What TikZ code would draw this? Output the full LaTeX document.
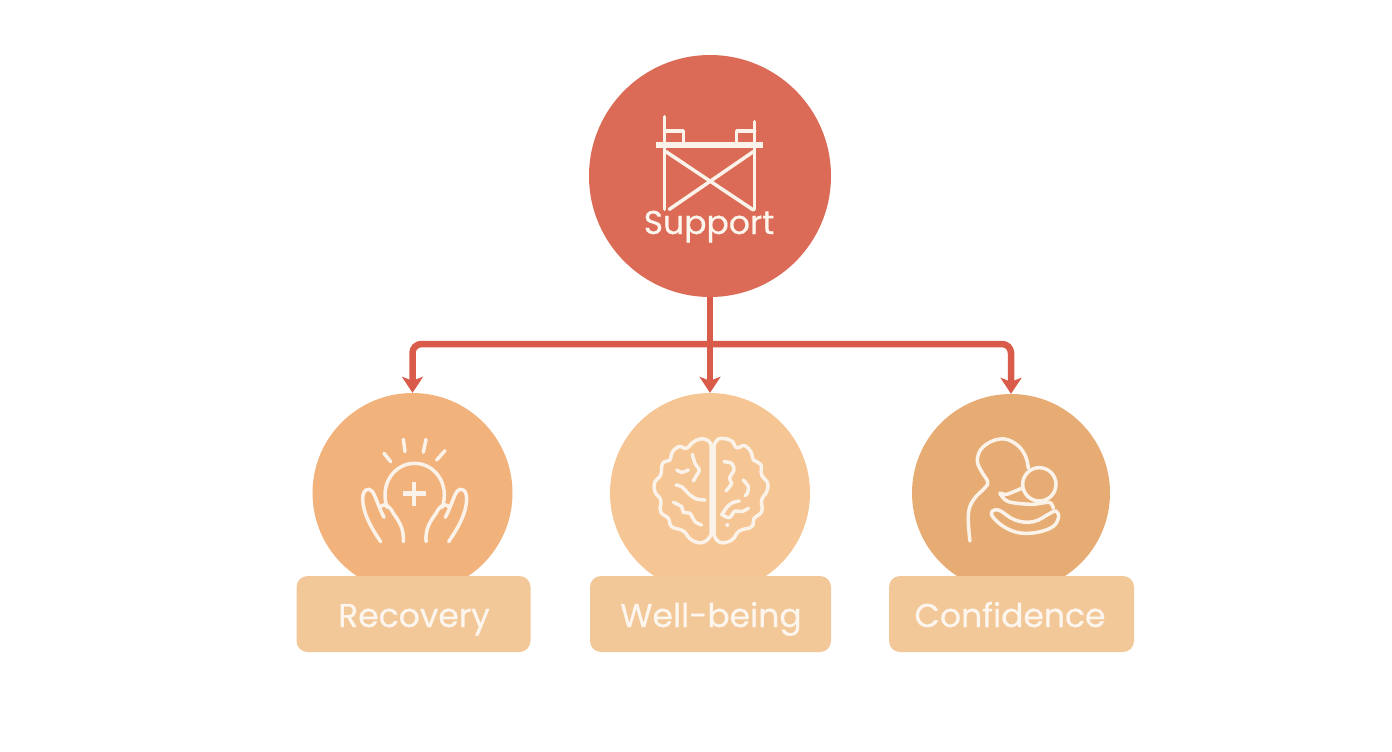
\documentclass[tikz,border=0pt]{standalone}
\usepackage{fontspec}
\setmainfont[FakeBold=0.5]{Poppins}
\usetikzlibrary{arrows.meta}
\definecolor{supportred}{HTML}{DB6B56}
\definecolor{linkred}{HTML}{D95C4B}
\definecolor{recoveryfill}{HTML}{F2B27C}
\definecolor{wellbeingfill}{HTML}{F5C594}
\definecolor{confidencefill}{HTML}{E6AC74}
\definecolor{labelfill}{HTML}{F3C899}
\definecolor{iconline}{HTML}{FBF3EA}
\definecolor{tagwhite}{HTML}{FDF6EE}
\tikzset{
    disc/.style={circle,draw=none,inner sep=0pt,minimum size=#1},
    tag/.style={rectangle,rounded corners=11pt,fill=labelfill,draw=none,minimum height=76pt},
    tagtext/.style={anchor=base,text=tagwhite,font=\fontsize{33}{36}\selectfont},
    linkarrow/.style={draw=linkred,line width=6.5pt,-{Stealth[length=16pt,width=21pt,inset=4pt]}},
    icon/.style={draw=iconline,line width=3.5pt,line cap=round,line join=round},
}
\begin{document}
\begin{tikzpicture}[x=1pt,y=-1pt]
        \useasboundingbox (0,0) rectangle (1392,752);
        \node[disc=242pt,fill=supportred] (support) at (710,176) {};
        \node[disc=200pt,fill=recoveryfill] (recovery) at (412.5,493) {};
        \node[disc=200pt,fill=wellbeingfill] (wellbeing) at (710,493) {};
        \node[disc=198pt,fill=confidencefill] (confidence) at (1011,493) {};
        \node[tag,minimum width=234pt] (recoverytag) at (413.5,614) {};
        \node[tag,minimum width=241pt] (wellbeingtag) at (710.5,614) {};
        \node[tag,minimum width=245pt] (confidencetag) at (1011.5,614) {};
        \node[tagtext] (recoverylabel) at (414,627) {Recovery};
        \node[tagtext] (wellbeinglabel) at (711,627) {Well-being};
        \node[tagtext] (confidencelabel) at (1010,627) {Confidence};
        \coordinate (branch) at (710,344);
        \draw[linkarrow] (support.south) -- (wellbeing.north);
        \draw[linkarrow,rounded corners=9pt] (branch) -| (recovery.north);
        \draw[linkarrow,rounded corners=9pt] (branch) -| (confidence.north);
        \begin{scope}[shift={(590,50)},scale=1/3]
            \draw[icon] (224,200) -- (224,478) (494,215) -- (494,478);
            \draw[icon,line width=6pt,line cap=butt] (198,286) -- (518,286);
            \draw[icon] (224,243) -- (280,243) -- (280,282) (494,243) -- (440,243) -- (440,282);
            \draw[icon] (228,305) -- (490,480) (490,305) -- (238,478);
        \end{scope}
        \node[tagtext] (supportlabel) at (709,234) {Support};
        \begin{scope}[shift={(340,420)},scale=1/3]
            \foreach \a/\b/\c/\d in {132/100/152/125,190/58/195/95,258/58/250/97,315/92/290/120}
                {\draw[icon] (\a,\b) -- (\c,\d);}
            \draw[icon] (141,262) .. controls (118,190) and (165,130) .. (224,130)
                .. controls (283,130) and (330,190) .. (307,262);
            \draw[icon,line width=4.5pt,line cap=butt] (188,220) -- (258,220) (222,185) -- (222,258);
            \foreach \sx/\sc in {0/1,448/-1} {
                \begin{scope}[shift={(\sx,0)},xscale=\sc]
                    \draw[icon] (122,365) .. controls (95,325) and (68,280) .. (68,235)
                        .. controls (68,205) and (92,198) .. (103,225)
                        .. controls (112,245) and (120,270) .. (132,292);
                    \draw[icon] (120,262) .. controls (135,245) and (150,260) .. (160,280)
                        .. controls (178,305) and (192,325) .. (190,365);
                \end{scope}
            }
        \end{scope}
        \begin{scope}[shift={(640,425)},scale=1/3]
            \draw[icon] plot[smooth,tension=0.8] coordinates {(213,60) (205,47) (180,42) (155,55) (140,70) (115,65)
                (95,85) (90,105) (68,115) (62,150) (45,170) (45,200) (62,225) (62,260) (85,280) (95,305)
                (130,318) (155,345) (190,352) (213,330)} -- cycle;
            \draw[icon] plot[smooth,tension=0.8] coordinates {(222,60) (230,47) (245,40) (275,48) (290,68) (315,62)
                (335,85) (340,105) (362,118) (365,150) (382,172) (380,200) (365,225) (365,260) (342,280) (335,305)
                (298,318) (275,345) (240,352) (222,330)} -- cycle;
            \draw[icon] plot[smooth] coordinates {(157,88) (165,115) (178,135) (170,150) (160,168)};
            \draw[icon] plot[smooth] coordinates {(110,135) (125,142) (145,135)};
            \draw[icon] plot[smooth] coordinates {(108,180) (125,185) (150,210) (170,222) (195,225)};
            \draw[icon] plot[smooth] coordinates {(100,232) (125,245) (130,262) (150,265) (165,290) (185,300)};
            \draw[icon] plot[smooth] coordinates {(252,110) (275,115) (282,135) (268,160) (275,175) (258,198)};
            \draw[icon] plot[smooth] coordinates {(310,165) (325,185) (322,205) (315,212)};
            \draw[icon] plot[smooth] coordinates {(245,270) (262,245) (280,232) (298,228)};
            \draw[icon] plot[smooth] coordinates {(248,270) (268,278) (285,258) (305,260) (325,250)};
            \fill[iconline] (262,300) circle (6);
        \end{scope}
        \begin{scope}[shift={(950,425)},scale=1/3]
            \draw[icon] plot[smooth,tension=0.7] coordinates {(60,348) (55,270) (70,225) (105,188) (113,170)
                (95,140) (82,105) (100,65) (150,42) (195,55) (225,90) (235,130)};
            \draw[icon] (268,178) circle (50);
            \draw[icon] plot[smooth,tension=0.5] coordinates {(215,190) (170,208) (150,205) (175,230) (245,238) (298,232) (310,250)};
            \draw[icon] plot[smooth cycle,tension=0.7] coordinates {(125,270) (145,255) (195,285) (250,290)
                (300,265) (318,258) (325,280) (300,310) (230,325) (170,310)};
        \end{scope}
    \end{tikzpicture}
\end{document}
